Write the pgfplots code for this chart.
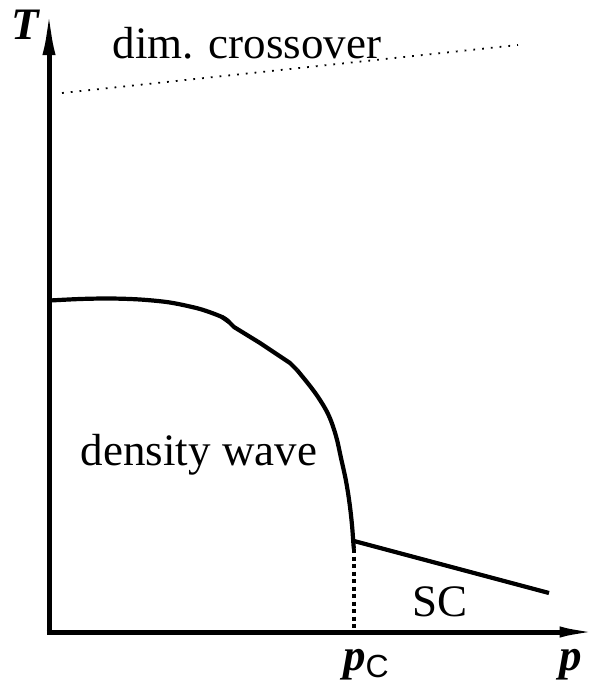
\documentclass[border=0pt]{standalone}
\usepackage{pgfplots}
\pgfplotsset{compat=1.18}
\usetikzlibrary{arrows.meta}
\usepackage{fontspec}
\setmainfont{Liberation Serif}
\newfontfamily\sansC{Liberation Sans}
\begin{document}
\begin{tikzpicture}
\begin{axis}[
  width=603pt, height=688pt, scale only axis,
  xmin=0, xmax=603, ymin=0, ymax=688, y dir=reverse,
  hide axis, clip=false,
]
\path (rel axis cs:0,0) rectangle (rel axis cs:1,1);
% axes
\addplot[black, line width=5pt, -{Latex[length=46pt,width=13pt]}] coordinates {(49,634.5) (49,9)};
\addplot[black, line width=5pt, -{Latex[length=43pt,width=11pt]}] coordinates {(46.5,632) (602.5,632)};
% dimensional crossover
\addplot[black, line width=1.8pt, dash pattern=on 1.8pt off 7pt] coordinates {(62,93) (518,45)};
% density wave boundary
\addplot[black, line width=4.2pt, smooth, tension=0.5] coordinates {(50,300.5) (80,299) (110,298.5) (140,299.5) (170,302.5) (200,309) (222,317) (229,322)};
\addplot[black, line width=4.2pt] coordinates {(222,317) (229,322) (234,327) (260,343) (290,363) (297,370)};
\addplot[black, line width=4.2pt, smooth, tension=0.6] coordinates {(297,370) (310,386) (320,400) (329,416) (336,436) (341,458) (346,481) (349.5,503) (352,525) (353.5,545) (354,549)};
% SC boundary
\addplot[black, line width=4.2pt] coordinates {(354,541) (549,593)};
% pc dotted
\addplot[black, line width=4.2pt, dash pattern=on 4pt off 3.5pt] coordinates {(354,549) (354,631)};
% labels
\node[font=\fontsize{45}{54}\selectfont] at (axis cs:247,43) {dim. crossover};
\node[font=\fontsize{45}{54}\selectfont] at (axis cs:199,455) {density wave};
\node[font=\fontsize{45}{54}\selectfont] at (axis cs:440,602) {SC};
\node[font=\fontsize{45}{54}\selectfont\bfseries\itshape] at (axis cs:25,25) {T};
\node[font=\fontsize{45}{54}\selectfont\bfseries\itshape] at (axis cs:571,665) {p};
\node[font=\fontsize{45}{54}\selectfont] at (axis cs:366,665) {\textbf{\textit{p}}\raisebox{-7pt}{\fontsize{32}{36}\selectfont\sansC C}};
\end{axis}
\end{tikzpicture}
\end{document}
